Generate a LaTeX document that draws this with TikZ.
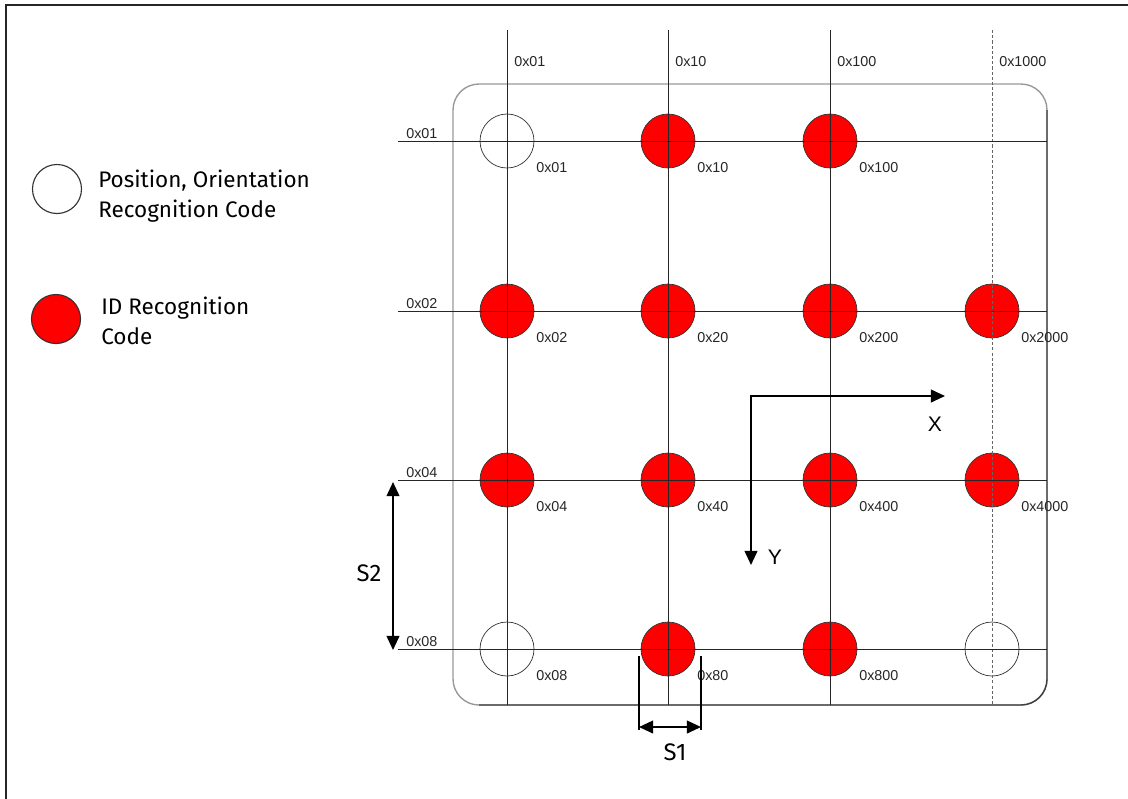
\documentclass[tikz,border=0pt]{standalone}
\usepackage{fontspec}
\setmainfont{Liberation Sans}
\newfontfamily\legendfont{Fira Sans}
\usetikzlibrary{arrows.meta}

\tikzset{
  hole/.style={circle, draw=black!80, line width=0.5pt, minimum size=1.35cm, inner sep=0pt},
  idhole/.style={hole, fill=red},
  poshole/.style={hole, fill=white},
  keyhole/.style={hole, minimum size=1.225cm, line width=0.8pt},
  gridline/.style={black!85, line width=0.6pt},
  hexlabel/.style={font=\fontsize{10.2}{12}\selectfont, text=black!85, inner sep=0pt},
  keytext/.style={font=\legendfont\fontsize{16}{21}\selectfont, align=left, inner sep=0pt, anchor=west},
  dimline/.style={line width=1.4pt, {Triangle[length=10pt,width=9pt]}-{Triangle[length=10pt,width=9pt]}},
}

\begin{document}
\begin{tikzpicture}[x=0.025cm, y=-0.025cm]
  \useasboundingbox (0,0) rectangle (1128,798);

  % frame
  \draw[black!85, line width=1.5pt] (6,820) -- (6,5) -- (1150,5);

  % legend
  \node[keyhole, fill=white] (keypos) at (57,189) {};
  \node[keytext] (keypostext) at (98,196) {Position, Orientation\\Recognition Code};
  \node[keyhole, fill=red] (keyid) at (56,319) {};
  \node[keytext] (keyidtext) at (101,321) {ID Recognition\\Code};

  % board outline
  \draw[black!40, line width=1pt, rounded corners=0.65cm] (453,84) rectangle (1047,705);
  \draw[black!75, line width=1pt, rounded corners=0.65cm] (1047,110) -- (1047,705) -- (479,705);

  % holes
  \foreach \x/\y/\s/\t in {507/141/poshole/0x01, 668/141/idhole/0x10, 830/141/idhole/0x100,
      507/311/idhole/0x02, 668/311/idhole/0x20, 830/311/idhole/0x200, 992/311/idhole/0x2000,
      507/480/idhole/0x04, 668/480/idhole/0x40, 830/480/idhole/0x400, 992/480/idhole/0x4000,
      507/649/poshole/0x08, 668/649/idhole/0x80, 830/649/idhole/0x800} {
    \node[\s] (h\t) at (\x,\y) {};
    \node[hexlabel, anchor=west] at (\x+29,\y+27) {\t};
  }
  \node[poshole] (hcorner) at (992,649) {};

  % grid
  \foreach \x/\t in {507/0x01, 668/0x10, 830/0x100} {
    \draw[gridline] (\x,30) -- (\x,705);
    \node[hexlabel, anchor=west] at (\x+7,62) {\t};
  }
  \draw[black!60, line width=0.6pt, dash pattern=on 2.2pt off 1.5pt] (992,30) -- (992,705);
  \node[hexlabel, anchor=west] at (999,62) {0x1000};
  \foreach \y/\t in {141/0x01, 311/0x02, 480/0x04, 649/0x08} {
    \draw[gridline] (398,\y) -- (1047,\y);
    \node[hexlabel, anchor=south west] at (406,\y-2) {\t};
  }

  % axes
  \coordinate (origin) at (751,396);
  \coordinate (xend) at (945,396);
  \coordinate (yend) at (751,565);
  \draw[dimline] (xend) -- (origin) -- (yend);
  \node[font=\fontsize{15}{18}\selectfont] (xlabel) at (935,424) {X};
  \node[font=\fontsize{15}{18}\selectfont] (ylabel) at (775,557) {Y};

  % spacing S2
  \coordinate (s2top) at (393,482);
  \coordinate (s2bot) at (393,650);
  \draw[dimline] (s2top) -- (s2bot);
  \node[font=\legendfont\fontsize{17}{18}\selectfont] (s2label) at (369,573) {S2};

  % spacing S1
  \coordinate (s1l) at (639,727);
  \coordinate (s1r) at (701,727);
  \draw[line width=0.8pt] (639,656) -- (639,730) (701,656) -- (701,730);
  \draw[dimline] (s1l) -- (s1r);
  \node[font=\legendfont\fontsize{17}{18}\selectfont] (s1label) at (675,752) {S1};
\end{tikzpicture}
\end{document}
